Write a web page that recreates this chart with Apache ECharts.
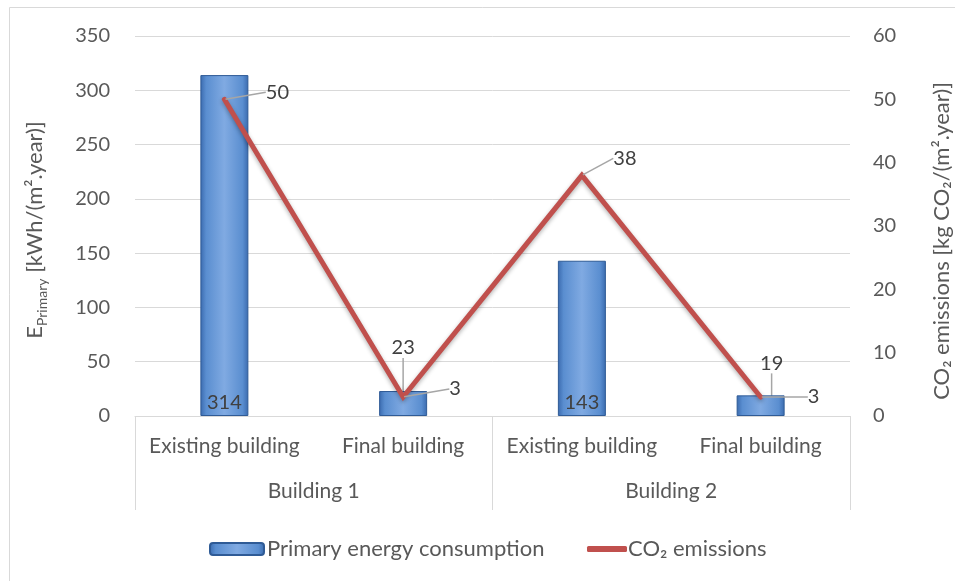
<!DOCTYPE html>
<html>
<head>
<meta charset="utf-8">
<script src="https://cdn.jsdelivr.net/npm/echarts@6/dist/echarts.min.js"></script>
<style>html,body{margin:0;padding:0;background:#fff;}#c{width:955px;height:581px;}</style>
</head>
<body>
<div id="c"></div>
<script>
const categories = ['Existing building', 'Final building', 'Existing building', 'Final building'];
const groups = ['Building 1', 'Building 2'];
const primaryEnergy = [314, 23, 143, 19];
const co2Emissions = [50, 3, 38, 3];
const leftTicks = [0, 350, 50];
const rightTicks = [0, 60, 10];
const barName = 'Primary energy consumption';
const lineName = 'CO₂ emissions';
const leftTitle = ['E', 'Primary', ' [kWh/(m².year)]'];
const rightTitle = 'CO₂ emissions [kg CO₂/(m².year)]';

const FONT = 'Lato, "Open Sans", sans-serif';
const TXT = '#595959';
const GRID = '#d9d9d9';
const TF = 21;   // text font size
const LF = 22;   // legend / title font size
const NF = 20;   // number font size

// label placement (style only)
const barLabelCfg = [
  {position: 'insideBottom', distance: 3},
  {position: 'top', distance: 0, dx: 0, dy: -33, line: true},
  {position: 'insideBottom', distance: 3},
  {position: 'top', distance: 0, dx: 11, dy: -22, line: true}
];
const lineLabelCfg = [
  {dx: 53, dy: 4}, {dx: 52, dy: 3}, {dx: 43, dy: -6}, {dx: 53, dy: 11}
];

const barGrad = new echarts.graphic.LinearGradient(0, 0, 1, 0, [
  {offset: 0, color: '#3a6aae'},
  {offset: 0.12, color: '#5a8ed0'},
  {offset: 0.5, color: '#80aae2'},
  {offset: 0.88, color: '#5a8ed0'},
  {offset: 1, color: '#3a6aae'}
]);

const barData = primaryEnergy.map((v, i) => ({
  value: v,
  label: {show: true, position: barLabelCfg[i].position, distance: barLabelCfg[i].distance},
  labelLine: {show: !!barLabelCfg[i].line}
}));

const chart = echarts.init(document.getElementById('c'), null, {renderer: 'canvas'});
chart.setOption({
  animation: false,
  backgroundColor: '#fff',
  textStyle: {fontFamily: FONT},
  graphic: [
    {type: 'line', shape: {x1: 9.5, y1: 7.5, x2: 9.5, y2: 581}, style: {stroke: GRID, lineWidth: 1}},
    {type: 'line', shape: {x1: 9.5, y1: 7.5, x2: 955, y2: 7.5}, style: {stroke: GRID, lineWidth: 1}},
    {
      type: 'text', x: 35, y: 230, rotation: Math.PI / 2,
      style: {
        text: '{a|' + leftTitle[0] + '}{s|' + leftTitle[1] + '}{a|' + leftTitle[2] + '}',
        align: 'center', verticalAlign: 'middle', fill: TXT, font: LF + 'px ' + FONT,
        rich: {
          a: {fontSize: LF, fill: TXT, fontFamily: FONT, lineHeight: 28, verticalAlign: 'middle'},
          s: {fontSize: 14, fill: TXT, fontFamily: FONT, lineHeight: 28, verticalAlign: 'bottom', padding: [12, 0, 0, 0]}
        }
      }
    },
    {
      type: 'text', x: 942, y: 241, rotation: Math.PI / 2,
      style: {text: rightTitle, align: 'center', verticalAlign: 'middle', fill: TXT, font: LF + 'px ' + FONT}
    }
  ],
  grid: {left: 135, right: 105, top: 36, bottom: 165, containLabel: false},
  legend: [
    {
      data: [barName], left: 204, top: 533, itemWidth: 54, itemHeight: 12, itemGap: 0,
      textStyle: {fontSize: LF, color: TXT, fontFamily: FONT, padding: [0, 0, 0, -2]}
    },
    {
      data: [{name: lineName, icon: 'roundRect'}], left: 582, top: 533, itemWidth: 40, itemHeight: 6, itemGap: 0,
      textStyle: {fontSize: LF, color: TXT, fontFamily: FONT, padding: [0, 0, 0, -4]}
    }
  ],
  xAxis: [
    {
      type: 'category', data: categories, position: 'bottom',
      axisLine: {lineStyle: {color: GRID, width: 1}},
      axisTick: {show: false},
      axisLabel: {fontSize: TF, color: TXT, fontFamily: FONT, margin: 20, interval: 0}
    },
    {
      type: 'category', data: groups, position: 'bottom',
      axisLine: {show: false},
      axisTick: {show: true, length: 94, lineStyle: {color: GRID, width: 1}},
      axisLabel: {fontSize: TF, color: TXT, fontFamily: FONT, margin: 65, interval: 0},
      splitLine: {show: false}
    }
  ],
  yAxis: [
    {
      type: 'value', min: leftTicks[0], max: leftTicks[1], interval: leftTicks[2],
      axisLine: {show: false}, axisTick: {show: false},
      axisLabel: {fontSize: NF, color: TXT, fontFamily: FONT, margin: 25},
      splitLine: {lineStyle: {color: GRID, width: 1}}
    },
    {
      type: 'value', min: rightTicks[0], max: rightTicks[1], interval: rightTicks[2], position: 'right',
      axisLine: {show: false}, axisTick: {show: false},
      axisLabel: {fontSize: NF, color: TXT, fontFamily: FONT, margin: 23},
      splitLine: {show: false}
    }
  ],
  series: [
    {
      name: barName, type: 'bar', xAxisIndex: 0, yAxisIndex: 0,
      data: barData, barWidth: 48,
      itemStyle: {color: barGrad, borderColor: '#2f5b96', borderWidth: 1},
      label: {show: true, fontSize: NF, color: '#404040', fontFamily: FONT},
      labelLine: {lineStyle: {color: '#a6a6a6', width: 1.5}},
      labelLayout: function (p) {
        const c = barLabelCfg[p.dataIndex];
        return c.line ? {dx: c.dx, dy: c.dy} : {};
      },
      z: 2
    },
    {
      name: lineName, type: 'line', xAxisIndex: 0, yAxisIndex: 1,
      data: co2Emissions,
      symbol: 'circle', symbolSize: 2, showSymbol: true,
      itemStyle: {color: '#c0504d'},
      lineStyle: {color: '#c0504d', width: 5, cap: 'round', join: 'miter',
        shadowColor: 'rgba(0,0,0,0.3)', shadowBlur: 4, shadowOffsetY: 2},
      label: {show: true, position: 'top', distance: 0, fontSize: NF, color: '#404040', fontFamily: FONT},
      labelLine: {show: true, lineStyle: {color: '#a6a6a6', width: 1.5}},
      labelLayout: function (p) {
        const c = lineLabelCfg[p.dataIndex];
        return {dx: c.dx, dy: c.dy};
      },
      z: 3
    }
  ]
});
</script>
</body>
</html>
